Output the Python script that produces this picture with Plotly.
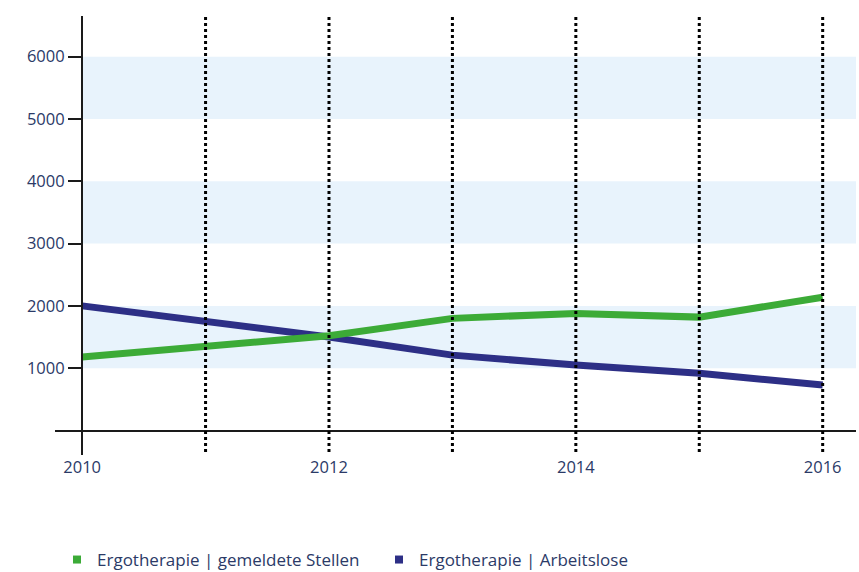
import plotly.graph_objects as go

# Jahre und Werte
years = [2010, 2011, 2012, 2013, 2014, 2015, 2016]
stellen = [1180, 1340, 1520, 1800, 1880, 1820, 2140]
arbeitslose = [2000, 1740, 1500, 1210, 1050, 920, 730]

series_names = ["Ergotherapie | gemeldete Stellen", "Ergotherapie | Arbeitslose"]
series_colors = ["#3cab37", "#2d2f86"]
tick_years = [2010, 2012, 2014, 2016]
y_ticks = [1000, 2000, 3000, 4000, 5000, 6000]
bands = [(1000, 2000), (3000, 4000), (5000, 6000)]

text_color = "#2b3a67"
font_family = "'Open Sans', Lato, sans-serif"

fig = go.Figure()

# Linien (Arbeitslose zuerst, Stellen darüber)
fig.add_trace(go.Scatter(x=years, y=arbeitslose, mode="lines",
                         line=dict(color=series_colors[1], width=7),
                         showlegend=False, hoverinfo="skip"))
fig.add_trace(go.Scatter(x=years, y=stellen, mode="lines",
                         line=dict(color=series_colors[0], width=7),
                         showlegend=False, hoverinfo="skip"))

# Legendeneinträge mit quadratischen Symbolen
for name, color in zip(series_names, series_colors):
    fig.add_trace(go.Scatter(x=[None], y=[None], mode="markers", name=name,
                             marker=dict(symbol="square", size=8, color=color)))

# Hellblaue Bänder
for y0, y1 in bands:
    fig.add_shape(type="rect", xref="x", yref="y", x0=years[0], x1=2016.4,
                  y0=y0, y1=y1, fillcolor="#e8f3fc", line_width=0, layer="below")

# Gepunktete senkrechte Linien je Jahr
for yr in years[1:]:
    fig.add_shape(type="line", xref="x", yref="y", x0=yr, x1=yr, y0=-345, y1=6650,
                  line=dict(color="#000000", width=3, dash="3px,3px"), layer="above")

fig.update_layout(
    width=859, height=572,
    margin=dict(l=55, r=3, t=16, b=117),
    paper_bgcolor="white", plot_bgcolor="white",
    font=dict(family=font_family, color=text_color, size=16),
    xaxis=dict(range=[2009.78, 2016.27], tickvals=tick_years,
               ticktext=[str(t) for t in tick_years],
               showgrid=False, zeroline=False, showline=False, ticks="",
               tickfont=dict(size=16.5, color=text_color)),
    yaxis=dict(range=[-393, 6653], tickvals=y_ticks,
               showgrid=False, zeroline=True, zerolinecolor="#1a1a1a", zerolinewidth=2,
               showline=True, linecolor="#1a1a1a", linewidth=2,
               ticks="outside", ticklen=13, tickwidth=2, tickcolor="#1a1a1a",
               anchor="free", position=0.0337,
               tickfont=dict(size=16.5, color=text_color)),
    legend=dict(orientation="h", x=0.0025, xanchor="left",
                yref="container", y=0.021, yanchor="middle",
                font=dict(size=17, color=text_color), itemwidth=30,
                entrywidth=277, entrywidthmode="pixels",
                bgcolor="rgba(0,0,0,0)"),
)

fig.write_html("out.html")
